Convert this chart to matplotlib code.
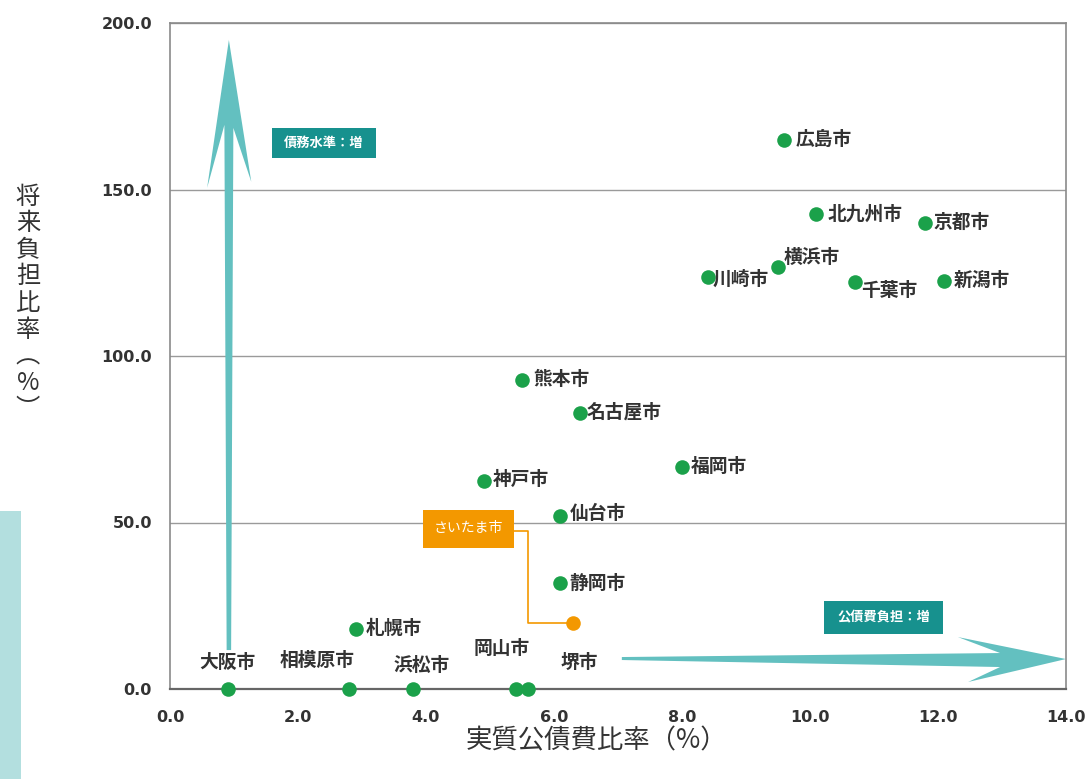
import matplotlib
matplotlib.use("Agg")
import matplotlib.pyplot as plt
from matplotlib.patches import Polygon, Rectangle

plt.rcParams['font.family'] = ['DejaVu Sans', 'Noto Sans CJK JP']

# ---- data ----
cities = ["大阪市", "相模原市", "浜松市", "岡山市", "堺市", "札幌市", "神戸市", "熊本市",
          "名古屋市", "仙台市", "静岡市", "福岡市", "広島市", "北九州市", "京都市",
          "横浜市", "川崎市", "千葉市", "新潟市"]
debt_service_ratio = [0.9, 2.8, 3.8, 5.4, 5.6, 2.9, 4.9, 5.5,
                      6.4, 6.1, 6.1, 8.0, 9.6, 10.1, 11.8,
                      9.5, 8.4, 10.7, 12.1]
future_burden_ratio = [0.0, 0.0, 0.0, 0.0, 0.0, 18.0, 62.5, 92.8,
                       82.9, 52.0, 31.8, 66.7, 164.9, 142.6, 139.9,
                       126.7, 123.7, 122.2, 122.5]
saitama_name = "さいたま市"
saitama_x = 6.3
saitama_y = 19.8

x_ticks = [0, 2, 4, 6, 8, 10, 12, 14]
y_ticks = [0, 50, 100, 150, 200]
x_label = "実質公債費比率（%）"
y_label = "将来負担比率（%）"
box_y_text = "債務水準：増"
box_x_text = "公債費負担：増"

# ---- label layout (pixel offsets from dot, ha) ----
label_layout = {
    "大阪市": (0, 27, "center"), "相模原市": (-32, 29, "center"), "浜松市": (8, 24, "center"),
    "岡山市": (-14, 41, "center"), "堺市": (51, 27, "center"),
}
side_layout = {
    "札幌市": (10, 1), "神戸市": (9, 1), "熊本市": (11, 0), "名古屋市": (7, 1),
    "仙台市": (9, 2), "静岡市": (9, 0), "福岡市": (9, 0), "広島市": (11, 0),
    "北九州市": (11, 0), "京都市": (8, 1), "横浜市": (6, 10), "川崎市": (5, -2),
    "千葉市": (6, -8), "新潟市": (9, 1),
}

GREEN = "#1ba14a"
ORANGE = "#f39800"
TEAL_BOX = "#17918e"
TEAL_ARROW = "#63c0c0"
TEXT = "#333333"
CJK = ['Noto Sans CJK JP', 'DejaVu Sans']

fig = plt.figure(figsize=(10.88, 7.79), dpi=100)
ax = fig.add_axes([170/1088, 90/779, 896/1088, 666/779])
ax.set_xlim(0, 14)
ax.set_ylim(0, 200)

# grid and frame
ax.set_yticks(y_ticks)
ax.set_xticks(x_ticks)
ax.set_yticklabels([f"{v:.1f}" for v in y_ticks], fontsize=11.5, fontweight='bold', color=TEXT)
ax.set_xticklabels([f"{v:.1f}" for v in x_ticks], fontsize=11.5, fontweight='bold', color=TEXT)
ax.tick_params(axis='both', length=0)
ax.tick_params(axis='x', pad=15)
ax.tick_params(axis='y', pad=13)
ax.grid(axis='y', color='#9a9a9a', linewidth=1.0)
ax.set_axisbelow(True)
for s in ['left', 'top', 'right']:
    ax.spines[s].set_color('#8a8a8a')
    ax.spines[s].set_linewidth(1.2)
ax.spines['bottom'].set_color('#666666')
ax.spines['bottom'].set_linewidth(1.6)

# arrows (decorations)
v_arrow = [(0.92, 194.9), (1.27, 152.3), (0.99, 168.5), (0.955, 11.7),
           (0.885, 11.7), (0.85, 169.4), (0.58, 150.5)]
ax.add_patch(Polygon(v_arrow, closed=True, facecolor=TEAL_ARROW, edgecolor='none', zorder=2))
h_arrow = [(14.0, 9.0), (12.31, 15.6), (12.97, 10.8), (7.06, 9.6),
           (7.06, 8.7), (12.97, 6.6), (12.47, 2.1)]
ax.add_patch(Polygon(h_arrow, closed=True, facecolor=TEAL_ARROW, edgecolor='none',
                     zorder=2, clip_on=False))

# teal boxes
ax.add_patch(Rectangle((1.59, 159.5), 1.63, 9.0, facecolor=TEAL_BOX, edgecolor='none', zorder=3))
ax.text(2.405, 164.0, box_y_text, color='white', fontsize=9.5, fontweight='bold',
        ha='center', va='center', family=CJK, zorder=4)
ax.add_patch(Rectangle((10.22, 16.5), 1.86, 9.9, facecolor=TEAL_BOX, edgecolor='none', zorder=3))
ax.text(11.15, 21.4, box_x_text, color='white', fontsize=9.5, fontweight='bold',
        ha='center', va='center', family=CJK, zorder=4)

# scatter
ax.scatter(debt_service_ratio, future_burden_ratio, s=110, color=GREEN, zorder=5,
           clip_on=False, linewidths=0)
ax.scatter([saitama_x], [saitama_y], s=110, color=ORANGE, zorder=5, linewidths=0)

# labels
for name, x, y in zip(cities, debt_service_ratio, future_burden_ratio):
    if name in label_layout:
        dx, dy, ha = label_layout[name]
        ax.annotate(name, (x, y), xytext=(dx, dy), textcoords='offset pixels',
                    ha=ha, va='center', fontsize=13.5, fontweight='bold', color=TEXT,
                    family=CJK, zorder=6, annotation_clip=False)
    else:
        dx, dy = side_layout[name]
        ax.annotate(name, (x, y), xytext=(dx, dy), textcoords='offset pixels',
                    ha='left', va='center', fontsize=13.5, fontweight='bold', color=TEXT,
                    family=CJK, zorder=6)

# saitama callout
ax.add_patch(Rectangle((3.95, 42.3), 1.425, 11.5, facecolor=ORANGE, edgecolor='none', zorder=3))
ax.text(4.66, 48.2, saitama_name, color='white', fontsize=10, ha='center', va='center',
        family=CJK, zorder=4)
ax.plot([5.375, 5.59, 5.59, saitama_x - 0.1], [47.4, 47.4, saitama_y, saitama_y],
        color=ORANGE, linewidth=1.2, zorder=3)

# axis titles
fig.text(596/1088, 1 - 741/779, x_label, ha='center', va='center', fontsize=19,
         color=TEXT, family=CJK)
fig.text(28/1088, 1 - 303/779, "将\n来\n負\n担\n比\n率\n︵\n%\n︶", ha='center', va='center',
         fontsize=17.5, color=TEXT, family=CJK, linespacing=1.03)

# left decorative band
fig.patches.append(Rectangle((0, 0), 21/1088, (779 - 511)/779, transform=fig.transFigure,
                             facecolor='#b3dfdf', edgecolor='none', figure=fig))

fig.savefig("out.png", dpi=100)
